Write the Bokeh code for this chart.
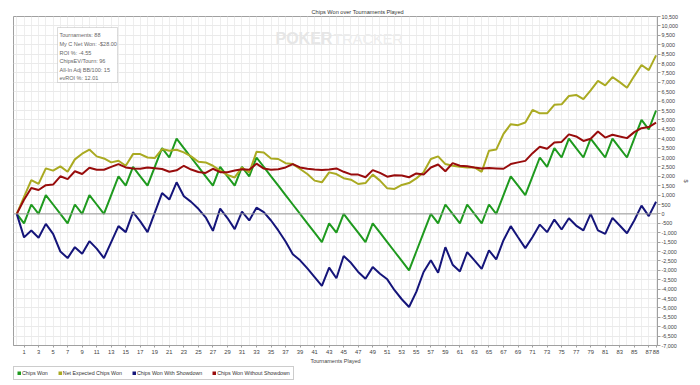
from bokeh.plotting import figure
from bokeh.layouts import column
from bokeh.models import (Range1d, FixedTicker, NumeralTickFormatter, Span, Label,
                          BoxAnnotation, Legend, LegendItem)
from bokeh.embed import file_html
from bokeh.resources import INLINE

# ---------------- data ----------------
tournaments = list(range(0, 89))
x_ticks = list(range(1, 88, 2)) + [88]
y_ticks = list(range(-7000, 10501, 500))

chips_won = [0, -500, 500, 0, 1000, 500, 0, -500, 500, 0,
             1000, 500, 0, 1000, 2000, 1500, 2500, 2000, 1500, 2500,
             3500, 3000, 4000, 3500, 3000, 2500, 2000, 1500, 2500, 2000,
             1500, 2500, 2000, 3000, 2500, 2000, 1500, 1000, 500, 0,
             -500, -1000, -1500, -500, -1000, 0, -500, -1000, -1500, -500,
             -1000, -1500, -2000, -2500, -3000, -2000, -1000, 0, -500, 500,
             0, -500, 500, 0, -500, 500, 0, 1000, 2000, 1500,
             1000, 2000, 3000, 2500, 3500, 3000, 4000, 3500, 3000, 4000,
             3500, 3000, 4000, 3500, 3000, 4000, 5000, 4500, 5500]

net_expected = [0, 900, 1800, 1600, 2420, 2300, 2530, 2240, 2900, 3200,
                3420, 3060, 2950, 2740, 2830, 2560, 3180, 3180, 3000, 2970,
                3450, 3360, 3410, 3270, 3060, 2770, 2740, 2560, 2300, 2070,
                1940, 2470, 2200, 3300, 3270, 2950, 2920, 2700, 2650, 2390,
                2120, 1770, 1680, 2210, 2120, 1900, 1820, 1590, 1640, 2090,
                1770, 1360, 1330, 1540, 1640, 1890, 2210, 2920, 3060, 2650,
                2560, 2510, 2470, 2470, 2240, 3360, 3420, 4260, 4770, 4720,
                4860, 5530, 5350, 5350, 5800, 5830, 6270, 6330, 6100, 6570,
                7070, 6840, 7280, 7010, 6710, 7330, 7920, 7650, 8430]

with_showdown = [0, -1250, -880, -1270, -530, -1060, -2000, -2350, -1770, -2120,
                 -1450, -1850, -2350, -1500, -650, -970, 90, -400, -970, 70,
                 1110, 760, 1680, 940, 640, 270, -180, -900, 280, -220,
                 -810, 120, -350, 330, 90, -350, -880, -1470, -2150, -2470,
                 -2900, -3360, -3830, -2860, -3420, -2240, -2600, -3090, -3450, -2830,
                 -3180, -3480, -4060, -4540, -4950, -4150, -3090, -2470, -3130, -1770,
                 -2700, -3060, -2030, -2470, -2920, -1940, -2420, -1400, -650, -1240,
                 -1820, -1230, -570, -970, -300, -830, -230, -620, -880, 0,
                 -880, -1060, -210, -620, -1030, -350, 440, -120, 650]

without_showdown = [0, 750, 1380, 1270, 1530, 1560, 2000, 1850, 2270, 2120,
                    2450, 2350, 2350, 2500, 2650, 2470, 2410, 2400, 2470, 2430,
                    2390, 2240, 2320, 2560, 2360, 2230, 2180, 2400, 2220, 2220,
                    2310, 2380, 2350, 2670, 2410, 2350, 2380, 2470, 2650, 2470,
                    2400, 2360, 2330, 2360, 2420, 2240, 2100, 2090, 1950, 2330,
                    2180, 1980, 2060, 2040, 1950, 2150, 2090, 2470, 2630, 2270,
                    2700, 2560, 2530, 2470, 2420, 2440, 2420, 2400, 2650, 2740,
                    2820, 3230, 3570, 3470, 3800, 3830, 4230, 4120, 3880, 4000,
                    4380, 4060, 4210, 4120, 4030, 4350, 4560, 4620, 4850]

series_names = ["Chips Won", "Net Expected Chips Won",
                "Chips Won With Showdown", "Chips Won Without Showdown"]
series_colors = ["#1f9a1f", "#aaaa22", "#15157a", "#980c0c"]

stats_lines = ["Tournaments: 88", "My C Net Won: -$28.00", "ROI %: -4.55",
               "ChipsEV/Tourn: 96", "All-In Adj BB/100: 15", "evROI %: 12.01"]

FONT = "Liberation Sans"
all_series = [chips_won, net_expected, with_showdown, without_showdown]

# ---------------- main figure ----------------
p = figure(width=691, height=366, output_backend="svg", toolbar_location=None,
           x_range=Range1d(-0.45, 88.2), y_range=Range1d(-7000, 10500),
           y_axis_location="right",
           min_border_left=13, min_border_right=31, min_border_top=16, min_border_bottom=20)

p.title.text = "Chips Won over Tournaments Played"
p.title.align = "left"
p.title.offset = 298
p.title.text_font = FONT
p.title.text_font_size = "5.6px"
p.title.text_font_style = "normal"
p.title.text_color = "#333333"
p.title.standoff = 4

p.background_fill_color = "white"
p.border_fill_color = "white"
p.outline_line_color = "#a0a0a0"
p.outline_line_width = 1

# grids
p.xgrid.ticker = FixedTicker(ticks=tournaments)
p.xgrid.grid_line_color = "#eeeeee"
p.ygrid.grid_line_color = "#eaeaea"

# x axis
p.xaxis.ticker = FixedTicker(ticks=x_ticks)
p.xaxis.axis_label = "Tournaments Played"
p.xaxis.axis_label_text_font = FONT
p.xaxis.axis_label_text_font_size = "5.5px"
p.xaxis.axis_label_text_font_style = "normal"
p.xaxis.axis_label_text_color = "#444444"
p.xaxis.axis_label_standoff = 1
p.xaxis.major_label_text_font = FONT
p.xaxis.major_label_text_font_size = "5.8px"
p.xaxis.major_label_text_color = "#444444"
p.xaxis.major_label_standoff = 2
p.xaxis.major_tick_out = 2
p.xaxis.major_tick_in = 0
p.xaxis.minor_tick_line_color = None
p.xaxis.axis_line_color = "#a0a0a0"
p.xaxis.major_tick_line_color = "#a0a0a0"

# y axis (right)
p.yaxis.ticker = FixedTicker(ticks=y_ticks)
p.yaxis.formatter = NumeralTickFormatter(format="0,0")
p.yaxis.axis_label = "$"
p.yaxis.axis_label_text_font = FONT
p.yaxis.axis_label_text_font_size = "5.5px"
p.yaxis.axis_label_text_font_style = "normal"
p.yaxis.axis_label_text_color = "#444444"
p.yaxis.axis_label_standoff = 2
p.yaxis.major_label_text_font = FONT
p.yaxis.major_label_text_font_size = "5.4px"
p.yaxis.major_label_text_color = "#444444"
p.yaxis.major_label_standoff = 1
p.yaxis.major_tick_out = 3
p.yaxis.major_tick_in = 0
p.yaxis.minor_tick_line_color = None
p.yaxis.axis_line_color = "#a0a0a0"
p.yaxis.major_tick_line_color = "#a0a0a0"

# zero line
p.add_layout(Span(location=0, dimension="width", line_color="#999999", line_width=1))

# watermark
p.add_layout(Label(x=262, y=307, x_units="screen", y_units="screen", text="POKER",
                   text_font=FONT, text_font_size="16px", text_font_style="bold",
                   text_color="#e6e6e6", text_baseline="middle"))
p.add_layout(Label(x=320, y=307, x_units="screen", y_units="screen", text="TRACKER",
                   text_font=FONT, text_font_size="14.5px",
                   text_color="#ededed", text_baseline="middle"))

# series
for vals, col in zip(all_series, series_colors):
    p.line(tournaments, vals, line_color=col, line_width=2)

# stats box
p.add_layout(BoxAnnotation(left=44, right=104, top=318, bottom=263,
                           left_units="screen", right_units="screen",
                           top_units="screen", bottom_units="screen",
                           fill_color="white", fill_alpha=1,
                           line_color="#8a8a8a", line_width=1))
stat_y = [310.3, 301.7, 293.0, 284.3, 275.7, 267.3]
for txt, yy in zip(stats_lines, stat_y):
    p.add_layout(Label(x=46, y=yy, x_units="screen", y_units="screen", text=txt,
                       text_font=FONT, text_font_size="5.5px", text_color="#666666",
                       text_baseline="middle"))

# ---------------- legend strip ----------------
# the strip's view window lies far above the data, so its lines stay out of sight;
# they only supply the legend swatches
lg = figure(width=700, height=19, output_backend="svg", toolbar_location=None,
            x_range=Range1d(0, 1), y_range=Range1d(20000, 20001),
            x_axis_location=None, y_axis_location=None,
            min_border_left=0, min_border_right=0, min_border_top=0, min_border_bottom=0)
lg.grid.visible = False
lg.outline_line_color = None
lg.background_fill_color = "white"
lg.border_fill_color = "white"

items = []
for name, vals, col in zip(series_names, all_series, series_colors):
    r = lg.line(tournaments, vals, line_color=col, line_width=4, line_cap="butt")
    items.append(LegendItem(label=name, renderers=[r]))
legend = Legend(items=items, orientation="horizontal", location=(0, 5),
                label_text_font=FONT, label_text_font_size="5.3px", label_text_color="#333333",
                glyph_width=4, glyph_height=4, label_standoff=1, spacing=10,
                padding=3, margin=0, label_height=6,
                border_line_color="#999999", background_fill_color="white",
                background_fill_alpha=1)
lg.add_layout(legend, "center")

layout = column(p, lg, spacing=0)
open("out.html", "w").write(file_html(layout, INLINE))
